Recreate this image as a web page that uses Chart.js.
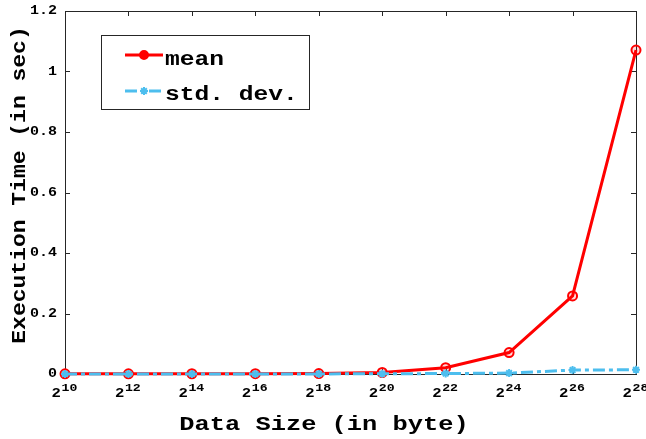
<!DOCTYPE html>
<html>
<head>
<meta charset="utf-8">
<script src="https://cdn.jsdelivr.net/npm/chart.js@4/dist/chart.umd.min.js"></script>
<style>
  html, body { margin: 0; padding: 0; background: #fff; }
  #wrap { width: 646px; height: 439px; position: relative; }
</style>
</head>
<body>
<div id="wrap"><canvas id="c" width="646" height="439"></canvas></div>
<script>
// ---- data ----
const exponents = ['10', '12', '14', '16', '18', '20', '22', '24', '26', '28'];
const meanTime = [0.0005, 0.0006, 0.0008, 0.001, 0.0015, 0.005, 0.021, 0.071, 0.258, 1.071];
const stdDevTime = [0.0001, 0.0001, 0.0001, 0.0002, 0.0003, 0.0008, 0.0015, 0.003, 0.013, 0.014];
const yTicks = [0, 0.2, 0.4, 0.6, 0.8, 1, 1.2];
const yTickLabels = ['0', '0.2', '0.4', '0.6', '0.8', '1', '1.2'];
const seriesNames = ['mean', 'std. dev.'];
const xTitle = 'Data Size (in byte)';
const yTitle = 'Execution Time (in sec)';

const RED = '#FF0000';
const BLUE = '#4DBEEE';
const AX = '#262626';
const MONO = '"Liberation Mono", "DejaVu Sans Mono", monospace';

function stretchText(ctx, text, x, y, font, sx, align, baseline, rot) {
  ctx.save();
  ctx.font = font;
  ctx.fillStyle = '#000';
  ctx.textAlign = align;
  ctx.textBaseline = baseline;
  ctx.translate(x, y);
  if (rot) ctx.rotate(rot);
  ctx.scale(sx, 1);
  ctx.fillText(text, 0, 0);
  ctx.restore();
}

function drawStar(ctx, x, y, r, color) {
  ctx.save();
  ctx.strokeStyle = color;
  ctx.lineWidth = 2;
  ctx.beginPath();
  for (let i = 0; i < 4; i++) {
    const a = i * Math.PI / 4;
    ctx.moveTo(x - r * Math.cos(a), y - r * Math.sin(a));
    ctx.lineTo(x + r * Math.cos(a), y + r * Math.sin(a));
  }
  ctx.stroke();
  ctx.restore();
}

const framePlugin = {
  id: 'frame',
  beforeDatasetsDraw(chart) {
    const ctx = chart.ctx;
    const a = chart.chartArea;
    const xs = chart.scales.x, ys = chart.scales.y;
    ctx.save();
    ctx.strokeStyle = AX;
    ctx.lineWidth = 1;
    ctx.strokeRect(a.left + 0.5, a.top + 0.5, a.right - a.left, a.bottom - a.top);
    ctx.beginPath();
    const tl = 5;
    exponents.forEach((e, i) => {
      const px = Math.round(xs.getPixelForTick(i)) + 0.5;
      ctx.moveTo(px, a.bottom); ctx.lineTo(px, a.bottom - tl);
      ctx.moveTo(px, a.top); ctx.lineTo(px, a.top + tl);
    });
    yTicks.forEach(v => {
      const py = Math.round(ys.getPixelForValue(v)) + 0.5;
      ctx.moveTo(a.left, py); ctx.lineTo(a.left + tl, py);
      ctx.moveTo(a.right, py); ctx.lineTo(a.right - tl, py);
    });
    ctx.stroke();
    ctx.restore();
  },
  afterDraw(chart) {
    const ctx = chart.ctx;
    const a = chart.chartArea;
    const xs = chart.scales.x, ys = chart.scales.y;
    // y tick labels
    yTicks.forEach((v, i) => {
      const py = ys.getPixelForValue(v);
      stretchText(ctx, yTickLabels[i], a.left - 8, py, 'bold 12px ' + MONO, 1.25, 'right', 'middle');
    });
    // x tick labels: 2^n
    exponents.forEach((e, i) => {
      const px = xs.getPixelForTick(i);
      stretchText(ctx, '2', px - 13.5, a.bottom + 23, 'bold 13px ' + MONO, 1.2, 'left', 'alphabetic');
      stretchText(ctx, e, px - 3.5, a.bottom + 17, 'bold 11px ' + MONO, 1.2, 'left', 'alphabetic');
    });
    // axis titles
    stretchText(ctx, xTitle, 324, 430, 'bold 20px ' + MONO, 1.27, 'center', 'alphabetic');
    stretchText(ctx, yTitle, 20, 185, 'bold 20px ' + MONO, 1.15, 'center', 'middle', -Math.PI / 2);
    // legend
    ctx.save();
    ctx.fillStyle = '#fff';
    ctx.fillRect(101.5, 35.5, 208, 74);
    ctx.strokeStyle = AX;
    ctx.lineWidth = 1;
    ctx.strokeRect(101.5, 35.5, 208, 74);
    ctx.restore();
    const rows = [55, 91];
    const bases = [65, 100];
    chart.data.datasets.forEach((ds, k) => {
      const y = rows[k];
      ctx.save();
      ctx.strokeStyle = ds.borderColor;
      ctx.lineWidth = ds.borderWidth;
      ctx.setLineDash(ds.borderDash || []);
      ctx.beginPath();
      ctx.moveTo(125, y); ctx.lineTo(163, y);
      ctx.stroke();
      ctx.restore();
      if (k === 0) {
        ctx.save();
        ctx.strokeStyle = RED; ctx.lineWidth = 2;
        ctx.fillStyle = RED;
        ctx.beginPath(); ctx.arc(144, y, 4, 0, Math.PI * 2); ctx.fill(); ctx.stroke();
        ctx.restore();
      } else {
        drawStar(ctx, 144, y, 4, BLUE);
      }
      stretchText(ctx, ds.label, 165, bases[k], 'bold 20px ' + MONO, 1.23, 'left', 'alphabetic');
    });
  }
};

new Chart(document.getElementById('c'), {
  type: 'line',
  data: {
    labels: exponents,
    datasets: [
      {
        label: seriesNames[0],
        data: meanTime,
        borderColor: RED,
        borderWidth: 3,
        pointStyle: 'circle',
        pointRadius: 4.5,
        pointBorderWidth: 2,
        pointBorderColor: RED,
        pointBackgroundColor: 'rgba(255,0,0,0.15)',
        tension: 0,
        clip: false,
        order: 2
      },
      {
        label: seriesNames[1],
        data: stdDevTime,
        borderColor: BLUE,
        borderWidth: 3,
        borderDash: [12, 4, 4, 4],
        pointStyle: 'star',
        pointRadius: 4,
        pointBorderWidth: 2,
        pointBorderColor: BLUE,
        pointBackgroundColor: BLUE,
        tension: 0,
        clip: false,
        order: 1
      }
    ]
  },
  options: {
    responsive: false,
    animation: false,
    devicePixelRatio: 1,
    layout: { padding: { top: 11, right: 10, left: 0, bottom: 0 } },
    plugins: { legend: { display: false }, tooltip: { enabled: false } },
    scales: {
      x: {
        type: 'category',
        offset: false,
        grid: { display: false },
        border: { display: false },
        ticks: { display: false },
        afterFit: s => { s.height = 65; }
      },
      y: {
        min: 0,
        max: 1.2,
        grid: { display: false },
        border: { display: false },
        ticks: { display: false, stepSize: 0.2 },
        afterFit: s => { s.width = 65; }
      }
    }
  },
  plugins: [framePlugin]
});
</script>
</body>
</html>
